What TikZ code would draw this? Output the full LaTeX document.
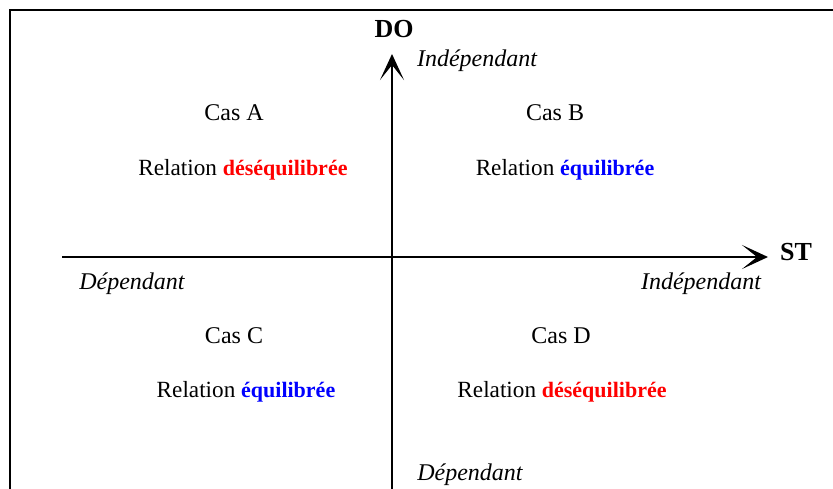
\documentclass[tikz,border=0pt]{standalone}
\usepackage{fontspec}
\setmainfont{Liberation Serif}
\usepackage{tikz}
\usetikzlibrary{arrows.meta,positioning}
\usepackage{xcolor}
\definecolor{RelRed}{HTML}{FF0000}
\definecolor{RelBlue}{HTML}{0000FF}

\newcommand{\relbold}[2]{\textcolor{#1}{\fontsize{11}{14}\selectfont\textbf{#2}}}

\begin{document}
\begin{tikzpicture}[x=0.5pt,y=-0.5pt,
    every node/.style={font=\fontsize{12}{14}\selectfont,inner sep=0pt},
    relation/.style={font=\fontsize{11.6}{14}\selectfont},
    axislabel/.style={font=\fontsize{13}{15}\selectfont\bfseries},
    sidelabel/.style={font=\fontsize{12}{14}\selectfont\itshape},
    axis/.style={line width=0.75pt,-{Stealth[length=13pt,width=12pt,inset=7.5pt]}}]
  \useasboundingbox (0,0) rectangle (833,488);
  % frame
  \draw[line width=1.1pt] (10,500) |- (845,10);

  % axes
  \coordinate (vbot) at (392,500);
  \coordinate (vtop) at (392,54);
  \coordinate (hleft) at (62,257);
  \coordinate (hright) at (768,257);
  \draw[axis] (vbot) -- (vtop);
  \draw[axis] (hleft) -- (hright);
  \node[axislabel] (do) at (394,29) {DO};
  \node[axislabel] (st) at (796,252) {ST};

  % ends of the axes
  \node[sidelabel] (indtop) at (477,61) {Indépendant};
  \node[sidelabel] (depleft) at (132,284) {Dépendant};
  \node[sidelabel] (indright) at (701,284) {Indépendant};
  \node[sidelabel] (depbot) at (470,475) {Dépendant};

  % the four cases
  \node (casA) at (234,113) {Cas A};
  \node[relation] (relA) at (243,170) {Relation \relbold{RelRed}{déséquilibrée}};
  \node (casB) at (555,113) {Cas B};
  \node[relation] (relB) at (565,170) {Relation \relbold{RelBlue}{équilibrée}};
  \node (casC) at (234,336) {Cas C};
  \node[relation] (relC) at (246,392) {Relation \relbold{RelBlue}{équilibrée}};
  \node (casD) at (561,336) {Cas D};
  \node[relation] (relD) at (562,392) {Relation \relbold{RelRed}{déséquilibrée}};
\end{tikzpicture}
\end{document}
